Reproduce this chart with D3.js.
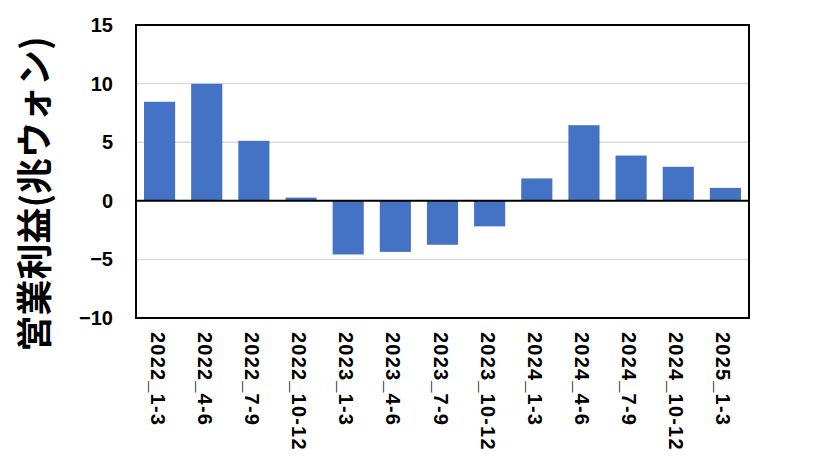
<!DOCTYPE html>
<html><head><meta charset="utf-8">
<script src="https://cdn.jsdelivr.net/npm/d3@7"></script>
<style>body{margin:0;background:#fff}svg{display:block}</style>
</head><body>
<svg id="c" width="834" height="469"></svg>
<script>
const categories = ["2022_1-3","2022_4-6","2022_7-9","2022_10-12","2023_1-3","2023_4-6","2023_7-9","2023_10-12","2024_1-3","2024_4-6","2024_7-9","2024_10-12","2025_1-3"];
const profit = [8.45, 9.98, 5.12, 0.27, -4.58, -4.36, -3.75, -2.18, 1.91, 6.45, 3.86, 2.90, 1.10];
const yTicks = [-10, -5, 0, 5, 10, 15];
const yTitle = "営業利益(兆ウォン)";

const svg = d3.select("#c");
const L = 136, R = 749, T = 25, B = 318;
const x = d3.scaleBand().domain(categories).range([L, R]).paddingInner(0.34).paddingOuter(0.17);
const y = d3.scaleLinear().domain([-10, 15]).range([B, T]);

// gridlines
svg.append("g").selectAll("line").data(yTicks.filter(d => d !== 0 && d !== 15 && d !== -10)).join("line")
  .attr("x1", L).attr("x2", R).attr("y1", d => y(d)).attr("y2", d => y(d))
  .attr("stroke", "#d9d9d9").attr("stroke-width", 1.5);

// bars
svg.append("g").selectAll("rect").data(categories).join("rect")
  .attr("x", d => x(d)).attr("width", x.bandwidth())
  .attr("y", (d, i) => y(Math.max(0, profit[i])))
  .attr("height", (d, i) => Math.abs(y(profit[i]) - y(0)))
  .attr("fill", "#4472C4");

// zero line
svg.append("line").attr("x1", L).attr("x2", R).attr("y1", y(0)).attr("y2", y(0))
  .attr("stroke", "#000").attr("stroke-width", 2);

// border
svg.append("rect").attr("x", L).attr("y", T).attr("width", R - L).attr("height", B - T)
  .attr("fill", "none").attr("stroke", "#000").attr("stroke-width", 2);

// y axis labels
const yAxis = d3.axisLeft(y).tickValues(yTicks).tickSize(0).tickPadding(23);
const gy = svg.append("g").attr("transform", `translate(${L},0)`).call(yAxis);
gy.select(".domain").remove();
gy.selectAll("text").attr("font-family", "'Liberation Sans', Arial, sans-serif")
  .attr("font-weight", "bold").attr("font-size", 20).attr("fill", "#000");

// x axis labels
const xAxis = d3.axisBottom(x).tickSize(0).tickPadding(0);
const gx = svg.append("g").attr("transform", `translate(0,${B})`).call(xAxis);
gx.select(".domain").remove();
gx.selectAll("text")
  .attr("font-family", "'Liberation Sans', Arial, sans-serif")
  .attr("font-weight", "bold").attr("font-size", 20).attr("fill", "#000")
  .attr("letter-spacing", "1.2px")
  .attr("transform", "translate(-2,14) rotate(90)")
  .attr("text-anchor", "start").attr("dy", "0.35em").attr("x", 0).attr("y", 0);

// y title
svg.append("text").attr("transform", "translate(48,194) rotate(-90)")
  .attr("text-anchor", "middle")
  .attr("font-family", "'Noto Sans CJK JP', sans-serif").attr("font-weight", "bold")
  .attr("font-size", 36).attr("fill", "#000").text(yTitle);
</script>
</body></html>
